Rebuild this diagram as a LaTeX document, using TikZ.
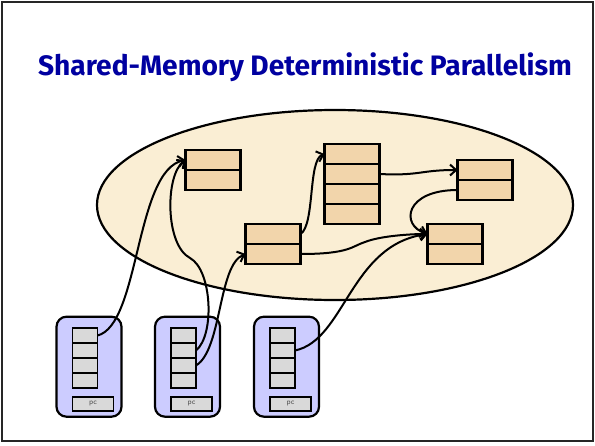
\documentclass[tikz,border=0pt]{standalone}
\usepackage{fontspec}
\usepackage{graphicx}
\usetikzlibrary{positioning,arrows.meta,shapes.geometric}
\newfontfamily\titlefont{Fira Sans}
\definecolor{heapfill}{RGB}{250,238,212}
\definecolor{objfill}{RGB}{242,213,171}
\definecolor{thrfill}{RGB}{204,204,255}
\definecolor{stkfill}{RGB}{217,217,217}
\definecolor{titleblue}{RGB}{0,0,160}
\begin{document}
\begin{tikzpicture}[x=1pt,y=-1pt,
  heap/.style={draw, ellipse, line width=2.2pt, fill=heapfill, minimum width=476pt, minimum height=190pt},
  obj/.style={draw, line width=2.2pt, fill=objfill, minimum width=55pt, minimum height=20pt, inner sep=0pt, outer sep=0pt},
  thread/.style={draw, line width=2.2pt, fill=thrfill, rounded corners=10pt, minimum width=65pt, minimum height=100pt, inner sep=0pt},
  slot/.style={draw, line width=1.8pt, fill=stkfill, minimum width=25pt, minimum height=15pt, inner sep=0pt, outer sep=0pt},
  pcbox/.style={draw, line width=1.8pt, fill=stkfill, minimum width=41pt, minimum height=14pt, inner sep=0pt, text depth=3pt, font=\fontsize{7.5}{7.5}\selectfont\sffamily, text=black!70},
  ptr/.style={line width=2pt, -{Straight Barb[length=6pt,width=11pt]}}]

% Page and frame
\useasboundingbox (0,0) rectangle (595,445);
\draw[line width=2.4pt, black!85] (2,2) rectangle (593,441);

% Title
\node[text=titleblue, font=\titlefont\bfseries] (title) at (305,67) {\resizebox{534pt}{!}{Shared-Memory Deterministic Parallelism}};

% Shared heap
\node[heap] (heap) at (335,205) {};

% Objects in the heap
\node[obj] (a1) at (213,160) {};
\node[obj, below=0pt of a1] (a2) {};
\node[obj] (b1) at (273,234) {};
\node[obj, below=0pt of b1] (b2) {};
\node[obj] (c1) at (352,154) {};
\node[obj, below=0pt of c1] (c2) {};
\node[obj, below=0pt of c2] (c3) {};
\node[obj, below=0pt of c3] (c4) {};
\node[obj] (d1) at (485,170) {};
\node[obj, below=0pt of d1] (d2) {};
\node[obj] (e1) at (455,234) {};
\node[obj, below=0pt of e1] (e2) {};

% Threads: stack slots and pc
\foreach \n/\x in {1/89,2/187.5,3/286.5}{
  \node[thread] (t\n) at (\x,366.7) {};
  \node[slot] (stk\n-1) at (\x-4,335.5) {};
  \node[slot, below=0pt of stk\n-1] (stk\n-2) {};
  \node[slot, below=0pt of stk\n-2] (stk\n-3) {};
  \node[slot, below=0pt of stk\n-3] (stk\n-4) {};
  \node[pcbox] (pc\n) at (\x+4,404) {pc};
}

% Pointers from the stacks
\draw[ptr] (stk1-1.east) .. controls (140,325) and (135,170) .. (a1.west);
\draw[ptr] (stk2-2.east) .. controls (215,335) and (212,270) .. (190,258) .. controls (165,245) and (165,175) .. (a1.west);
\draw[ptr] (stk2-3.east) .. controls (222,350) and (218,265) .. (b2.west);
\draw[ptr] (stk3-2.east) .. controls (345,340) and (350,245) .. (e1.west);

% Pointers between objects
\draw[ptr] (b1.east) .. controls (315,225) and (308,160) .. (c1.west);
\draw[ptr] (b2.east) .. controls (350,254) and (352,246) .. (365,242) .. controls (380,236) and (410,234) .. (e1.west);
\draw[ptr] (c2.east) .. controls (420,176) and (420,170) .. (d1.west);
\draw[ptr] (d2.west) .. controls (405,190) and (400,225) .. (e1.west);

\end{tikzpicture}
\end{document}
